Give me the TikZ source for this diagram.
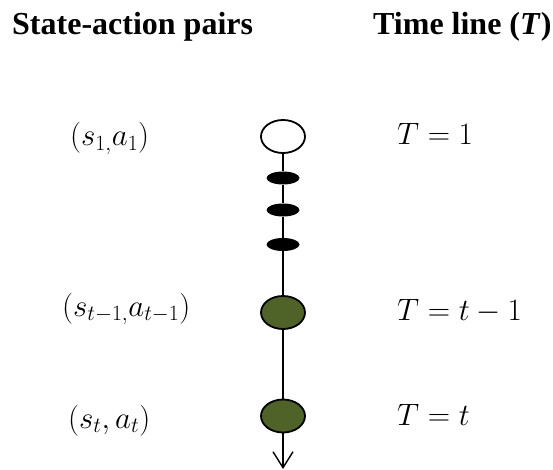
\RequirePackage{fix-cm}
\documentclass[tikz,border=0pt]{standalone}
\usepackage{fontspec}
\setmainfont{Liberation Serif}
\usetikzlibrary{shapes.geometric,arrows.meta}
\definecolor{olive}{HTML}{4F6228}
\begin{document}
\begin{tikzpicture}[x=1pt,y=-1pt,
  bigell/.style={ellipse,draw=black,line width=1.8pt,minimum width=44pt,minimum height=33pt,inner sep=0pt},
  smallell/.style={ellipse,fill=black,minimum width=33pt,minimum height=13pt,inner sep=0pt},
  conn/.style={line width=1.4pt},
  head/.style={font=\fontsize{32}{36}\selectfont\bfseries,anchor=base west,inner sep=0pt},
  lab/.style={font=\fontsize{31}{36}\selectfont,anchor=base west,inner sep=0pt}]
\useasboundingbox (0,0) rectangle (553,470);
\node[head] (h1) at (12,35) {State-action pairs};
\node[head] (h2) at (373,35) {Time line (\textit{T})};
\node[bigell,fill=white] (n1) at (283,136.5) {};
\node[smallell] (d1) at (283,178) {};
\node[smallell] (d2) at (283,210) {};
\node[smallell] (d3) at (283,244.5) {};
\node[bigell,fill=olive] (g1) at (283,312.5) {};
\node[bigell,fill=olive] (g2) at (283,416) {};
\coordinate (end) at (283,469);
\draw[conn] (n1) -- (d1);
\draw[conn] (d1) -- (d2);
\draw[conn] (d2) -- (d3);
\draw[conn] (d3) -- (g1);
\draw[conn] (g1) -- (g2);
\draw[conn,-{Straight Barb[length=16pt,width=20pt,line width=1.4pt]}] (g2) -- (end);
\node[lab] (l1) at (70,146) {$(s_{1,}a_1)$};
\node[lab] (l2) at (62,316) {$(s_{t-1,}a_{t-1})$};
\node[lab] (l3) at (68,428) {$(s_t,a_t)$};
\node[lab] (r1) at (397,145) {$T=1$};
\node[lab] (r2) at (397,320) {$T=t-1$};
\node[lab] (r3) at (397,425) {$T=t$};
\end{tikzpicture}
\end{document}
